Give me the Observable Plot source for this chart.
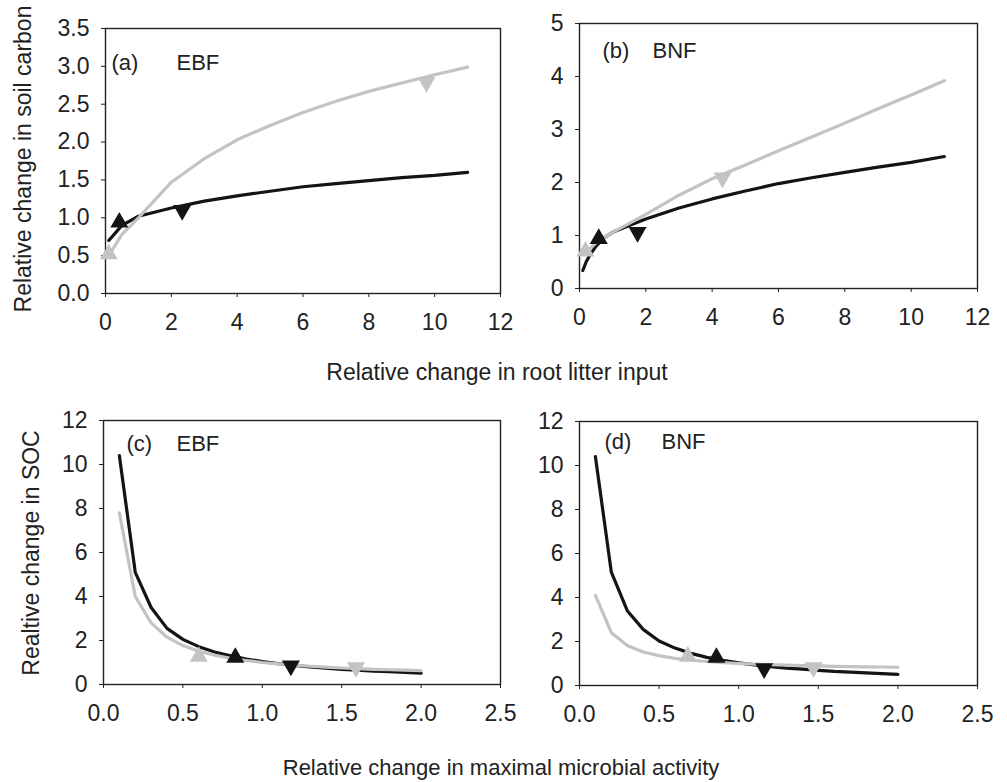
<!DOCTYPE html>
<html>
<head>
<meta charset="utf-8">
<script src="https://cdn.jsdelivr.net/npm/d3@7"></script>
<script src="https://cdn.jsdelivr.net/npm/@observablehq/plot@0.6"></script>
<style>
  html, body { margin: 0; padding: 0; background: #fff; }
  #root { position: relative; width: 1007px; height: 782px; background: #fff;
          font-family: "Liberation Sans", Arial, sans-serif; color: #222; overflow: hidden; }
  .panel { position: absolute; }
  .title { position: absolute; white-space: nowrap; font-size: 23px; line-height: 1;
           transform: translate(-50%, -50%); }
  .title.small { font-size: 22px; }
  .title.rot { transform: translate(-50%, -50%) rotate(-90deg); }
</style>
</head>
<body>
<div id="root"></div>
<script>
// ---------- data ----------
const panelLabels = ["(a)", "(b)", "(c)", "(d)"];
const forestTypes = ["EBF", "BNF", "EBF", "BNF"];
const xTitleTop = "Relative change in root litter input";
const xTitleBottom = "Relative change in maximal microbial activity";
const yTitleTop = "Relative change in soil carbon";
const yTitleBottom = "Realtive change in SOC";

const rootTicks = [0, 2, 4, 6, 8, 10, 12];
const carbonTicksA = [0, 0.5, 1, 1.5, 2, 2.5, 3, 3.5];
const carbonTicksB = [0, 1, 2, 3, 4, 5];
const activityTicks = [0, 0.5, 1, 1.5, 2, 2.5];
const socTicks = [0, 2, 4, 6, 8, 10, 12];

// (a) EBF – root litter input
const aX = [0.1, 0.5, 1, 2, 3, 4, 5, 6, 7, 8, 9, 10, 11];
const aBlackY = [0.70, 0.90, 1.02, 1.13, 1.22, 1.29, 1.35, 1.41, 1.45, 1.49, 1.53, 1.56, 1.60];
const aGrayY = [0.50, 0.78, 1.00, 1.47, 1.78, 2.03, 2.22, 2.39, 2.54, 2.67, 2.78, 2.89, 2.99];
const aMarkX = [0.42, 2.33, 0.10, 9.75];
const aMarkY = [0.94, 1.10, 0.52, 2.79];

// (b) BNF – root litter input
const bBlackX = [0.1, 0.2, 0.3, 0.5, 0.75, 1, 1.5, 2, 3, 4, 5, 6, 7, 8, 9, 10, 11];
const bBlackY = [0.34, 0.50, 0.62, 0.80, 0.96, 1.06, 1.19, 1.31, 1.52, 1.69, 1.84, 1.98, 2.09, 2.19, 2.29, 2.38, 2.49];
const bGrayX = [0.18, 0.5, 1, 1.5, 2, 3, 4, 5, 6, 7, 8, 9, 10, 11];
const bGrayY = [0.68, 0.86, 1.06, 1.23, 1.40, 1.76, 2.07, 2.33, 2.60, 2.86, 3.12, 3.39, 3.65, 3.92];
const bMarkX = [0.58, 1.75, 0.18, 4.31];
const bMarkY = [0.94, 1.06, 0.70, 2.09];

// (c) EBF – maximal microbial activity
const cdX = [0.1, 0.2, 0.3, 0.4, 0.5, 0.6, 0.7, 0.8, 0.9, 1.0, 1.1, 1.2, 1.3, 1.4, 1.5, 1.6, 1.7, 1.8, 1.9, 2.0];
const cBlackY = [10.4, 5.1, 3.5, 2.55, 2.05, 1.72, 1.48, 1.30, 1.16, 1.04, 0.95, 0.87, 0.80, 0.74, 0.69, 0.65, 0.61, 0.58, 0.55, 0.52];
const cGrayY = [7.8, 4.0, 2.8, 2.15, 1.77, 1.51, 1.33, 1.19, 1.09, 1.00, 0.94, 0.88, 0.83, 0.79, 0.75, 0.72, 0.69, 0.67, 0.65, 0.63];
const cMarkX = [0.83, 1.18, 0.60, 1.59];
const cMarkY = [1.22, 0.85, 1.27, 0.78];

// (d) BNF – maximal microbial activity
const dBlackY = [10.4, 5.15, 3.4, 2.55, 2.02, 1.70, 1.46, 1.28, 1.14, 1.03, 0.94, 0.86, 0.79, 0.74, 0.69, 0.64, 0.61, 0.57, 0.54, 0.51];
const dGrayY = [4.1, 2.4, 1.82, 1.52, 1.36, 1.23, 1.15, 1.09, 1.04, 1.00, 0.97, 0.95, 0.93, 0.91, 0.89, 0.87, 0.86, 0.85, 0.84, 0.83];
const dMarkX = [0.86, 1.16, 0.68, 1.47];
const dMarkY = [1.27, 0.77, 1.32, 0.82];

// marker kinds, in the order of the *MarkX arrays
const markShape = ["up", "down", "up", "down"];
const markTone = ["black", "black", "gray", "gray"];

// ---------- helpers ----------
const BLACK = "#141414";
const GRAY = "#c3c3c3";
const FONT = "'Liberation Sans', Arial, sans-serif";
const TICK_FONT = 23;

const triangleDown = {
  draw(context, size) {
    const y = -Math.sqrt(size / (Math.sqrt(3) * 3));
    context.moveTo(0, -y * 2);
    context.lineTo(-Math.sqrt(3) * y, y);
    context.lineTo(Math.sqrt(3) * y, y);
    context.closePath();
  }
};

const zip = (xs, ys) => xs.map((x, i) => ({x, y: ys[i]}));

function panel(cfg) {
  const black = zip(cfg.blackX, cfg.blackY);
  const gray = zip(cfg.grayX, cfg.grayY);
  const marks = cfg.markX.map((x, i) => ({x, y: cfg.markY[i], shape: markShape[i], tone: markTone[i]}));
  const ups = marks.filter(d => d.shape === "up");
  const downs = marks.filter(d => d.shape === "down");
  const tone = d => d.tone === "black" ? BLACK : GRAY;
  const chart = Plot.plot({
    width: cfg.width,
    height: cfg.height,
    marginLeft: cfg.ml, marginRight: cfg.mr, marginTop: cfg.mt, marginBottom: cfg.mb,
    style: {fontSize: TICK_FONT + "px", fontFamily: FONT, color: "#222", background: "transparent", overflow: "visible"},
    x: {domain: cfg.xDomain},
    y: {domain: cfg.yDomain},
    marks: [
      Plot.axisX({ticks: cfg.xTicks, tickFormat: cfg.xFormat, tickSize: 4, tickPadding: 16, label: null, fontSize: TICK_FONT, fill: "#222", stroke: "#222"}),
      Plot.axisY({ticks: cfg.yTicks, tickFormat: cfg.yFormat, tickSize: 4, tickPadding: 12, label: null, fontSize: TICK_FONT, fill: "#222", stroke: "#222"}),
      Plot.frame({stroke: "#222", strokeWidth: 1.4}),
      Plot.line(black, {x: "x", y: "y", stroke: BLACK, strokeWidth: 3.2, curve: "linear"}),
      Plot.line(gray, {x: "x", y: "y", stroke: GRAY, strokeWidth: 3.2, curve: "linear"}),
      Plot.dot(ups, {x: "x", y: "y", symbol: "triangle", r: 6.7, fill: tone, stroke: "none"}),
      Plot.dot(downs, {x: "x", y: "y", symbol: triangleDown, r: 6.7, fill: tone, stroke: "none"}),
      Plot.text([cfg.label], {frameAnchor: "top-left", lineAnchor: "middle", dx: cfg.labelDx, dy: cfg.labelDy, textAnchor: "start", fontSize: 22, fill: "#222"}),
      Plot.text([cfg.forest], {frameAnchor: "top-left", lineAnchor: "middle", dx: cfg.forestDx, dy: cfg.labelDy, textAnchor: "start", fontSize: 22, fill: "#222"})
    ]
  });
  const div = document.createElement("div");
  div.className = "panel";
  div.style.left = cfg.left + "px";
  div.style.top = cfg.top + "px";
  div.appendChild(chart);
  return div;
}

const root = document.getElementById("root");
const fmt1 = d3.format(".1f");
const fmt0 = d3.format("d");

root.appendChild(panel({
  left: 0, top: 0, width: 510, height: 340, ml: 105, mr: 10, mt: 28, mb: 47,
  xDomain: [0, 12], xTicks: rootTicks, xFormat: fmt0,
  yDomain: [0, 3.5], yTicks: carbonTicksA, yFormat: fmt1,
  blackX: aX, blackY: aBlackY, grayX: aX, grayY: aGrayY, markX: aMarkX, markY: aMarkY,
  label: panelLabels[0], forest: forestTypes[0], labelDx: 6, forestDx: 71, labelDy: 34
}));
root.appendChild(panel({
  left: 500, top: 0, width: 500, height: 340, ml: 79, mr: 23, mt: 23, mb: 52,
  xDomain: [0, 12], xTicks: rootTicks, xFormat: fmt0,
  yDomain: [0, 5], yTicks: carbonTicksB, yFormat: fmt0,
  blackX: bBlackX, blackY: bBlackY, grayX: bGrayX, grayY: bGrayY, markX: bMarkX, markY: bMarkY,
  label: panelLabels[1], forest: forestTypes[1], labelDx: 23, forestDx: 73, labelDy: 27
}));
root.appendChild(panel({
  left: 0, top: 400, width: 510, height: 330, ml: 103, mr: 10, mt: 20, mb: 46,
  xDomain: [0, 2.5], xTicks: activityTicks, xFormat: fmt1,
  yDomain: [0, 12], yTicks: socTicks, yFormat: fmt0,
  blackX: cdX, blackY: cBlackY, grayX: cdX, grayY: cGrayY, markX: cMarkX, markY: cMarkY,
  label: panelLabels[2], forest: forestTypes[2], labelDx: 23, forestDx: 73, labelDy: 23
}));
root.appendChild(panel({
  left: 500, top: 400, width: 500, height: 330, ml: 79, mr: 23, mt: 21, mb: 45,
  xDomain: [0, 2.5], xTicks: activityTicks, xFormat: fmt1,
  yDomain: [0, 12], yTicks: socTicks, yFormat: fmt0,
  blackX: cdX, blackY: dBlackY, grayX: cdX, grayY: dGrayY, markX: dMarkX, markY: dMarkY,
  label: panelLabels[3], forest: forestTypes[3], labelDx: 25, forestDx: 82, labelDy: 20
}));

function title(text, x, y, cls) {
  const d = document.createElement("div");
  d.className = "title " + cls;
  d.style.left = x + "px";
  d.style.top = y + "px";
  d.textContent = text;
  root.appendChild(d);
}
title(yTitleTop, 23, 159, "rot");
title(yTitleBottom, 31, 553, "rot");
title(xTitleTop, 497, 372, "");
title(xTitleBottom, 501, 768, "small");
</script>
</body>
</html>
